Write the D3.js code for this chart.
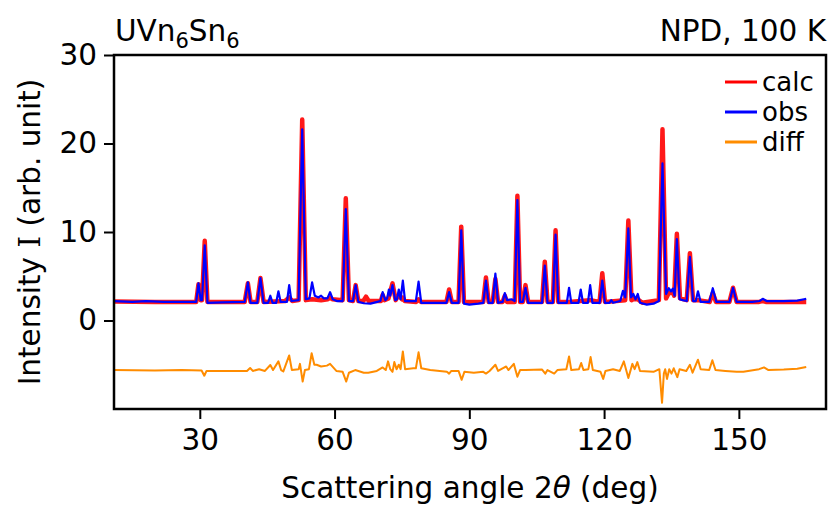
<!DOCTYPE html>
<html>
<head>
<meta charset="utf-8">
<script src="https://cdn.jsdelivr.net/npm/d3@7"></script>
<style>
  body { margin: 0; background: #fff; }
  text { font-family: "DejaVu Sans", sans-serif; fill: #000; }
</style>
</head>
<body>
<svg id="myGraph" width="831" height="506"></svg>
<script>
// 2theta (deg), intensity
var calc = [[10.9,2.15],[20,2.1],[28.9,2.1],[29.2,2.1],[29.7,4.1],[30.2,2.3],[30.5,2.3],[31.1,9.0],[31.7,2.1],
  [40.0,2.1],[40.7,4.2],[41.3,2.1],[42.8,2.1],[43.5,4.8],[44.2,2.1],[49.0,2.2],[49.9,2.6],[50.6,2.2],
  [52.0,2.3],[52.8,22.7],[53.6,2.3],[55.0,2.4],[57.0,2.3],[58.5,2.4],[59.0,2.6],[59.5,2.4],
  [61.8,2.3],[62.5,13.8],[63.2,2.3],[64.1,2.2],[64.7,4.0],[65.3,2.2],[66.4,2.2],[67.0,2.7],[67.6,2.2],
  [70.3,2.2],[70.7,2.9],[71.1,2.3],[72.0,2.5],[72.9,4.2],[73.6,2.3],[74.3,2.9],[75.0,2.4],[75.2,2.6],[75.6,2.2],
  [78.2,2.1],[78.7,2.4],[79.2,2.1],[84.9,2.1],[85.5,3.5],[86.1,2.1],[87.6,2.1],[88.2,10.6],[88.8,2.1],
  [93.1,2.1],[93.7,4.85],[94.3,2.1],[95.2,2.1],[95.8,4.7],[96.4,2.1],[97.4,2.1],[97.9,2.8],[98.4,2.1],
  [100.1,2.1],[100.7,14.1],[101.3,2.1],[101.9,2.1],[102.5,4.0],[103.1,2.1],[106.2,2.1],[106.8,6.65],[107.4,2.1],
  [108.6,2.1],[109.2,10.2],[109.8,2.1],[112.2,2.1],[114.8,2.2],[116.9,2.3],[119.0,2.1],[119.6,5.35],[120.2,2.1],
  [124.7,2.3],[125.4,11.3],[126.1,2.3],[126.5,2.4],[127.5,2.4],[128.5,2.0],[132.2,2.3],[133.0,21.6],[133.8,2.5],
  [134.4,3.1],[135.4,3.1],[135.6,2.8],[136.2,9.8],[136.9,2.5],[138.4,2.3],[139.1,7.6],[139.8,2.3],[140.9,2.3],
  [143.5,2.1],[144.2,3.1],[144.9,2.1],[147.9,2.1],[148.7,3.7],[149.5,2.1],[154.5,2.1],[155.3,2.2],[156.0,2.1],[165.0,2.1]];

var obs = [[10.9,2.2],[15,2.1],[18,2.2],[22,2.1],[26,2.1],[28.9,2.1],[29.2,2.1],[29.7,4.2],[30.2,2.3],[30.5,2.3],[31.1,8.5],[31.7,2.0],
  [35,2.05],[40.0,2.1],[40.7,4.3],[41.3,2.0],[42.8,2.0],[43.5,4.8],[44.2,2.0],
  [45.2,2.0],[45.7,2.8],[46.2,2.0],[47.0,2.0],[47.5,3.3],[48.0,2.1],[49.4,2.1],[49.9,4.0],[50.4,2.2],
  [52.0,2.3],[52.8,21.6],[53.6,2.4],[54.4,2.5],[55.0,4.3],[55.6,2.8],[56.4,2.6],[57.0,2.8],[57.6,2.5],[58.4,2.5],[59.0,3.2],[59.6,2.4],[60.5,2.2],
  [61.8,2.2],[62.5,12.6],[63.2,2.2],[64.1,2.2],[64.7,4.0],[65.3,2.1],[66.5,1.95],[68,1.9],[69.5,2.1],
  [70.2,2.2],[70.7,3.2],[71.3,2.3],[71.7,2.5],[72.1,3.5],[72.4,2.8],[72.9,4.0],[73.5,2.3],[73.9,2.4],[74.3,3.5],[74.7,2.4],[75.2,4.5],[75.7,2.2],
  [78.1,2.2],[78.7,4.4],[79.3,2.0],[82,2.0],[84.9,2.0],[85.5,3.2],[86.1,2.0],
  [87.6,2.0],[88.2,10.2],[88.8,1.9],[90,1.8],[92,1.9],[93.1,2.0],[93.7,4.5],[94.3,2.0],
  [95.2,2.0],[95.8,5.3],[96.4,2.0],[97.4,2.1],[97.9,3.1],[98.4,2.3],[99.4,2.4],[100.1,2.2],[100.7,13.6],[101.3,2.1],
  [101.9,2.1],[102.5,3.7],[103.1,2.0],[105,2.0],[106.2,2.0],[106.8,6.2],[107.4,2.0],[108.6,2.0],[109.2,9.7],[109.8,2.0],
  [111.7,2.0],[112.2,3.7],[112.7,2.0],[114.3,2.0],[114.8,3.5],[115.3,2.0],[116.4,2.0],[116.9,4.0],[117.4,2.0],
  [119.0,2.0],[119.6,4.5],[120.2,2.0],[121.2,2.0],[121.6,2.3],[122,2.0],[123.6,2.2],[124.2,3.35],[124.7,2.6],[125.4,10.4],[126.0,2.6],
  [126.5,3.0],[127.0,2.4],[127.5,3.0],[128.0,2.0],[129.5,1.8],[131,1.9],[132.2,2.2],[133.0,17.75],[133.8,3.0],
  [134.4,3.65],[134.9,3.3],[135.3,3.6],[135.7,2.8],[136.2,9.2],[136.8,2.4],[137.5,2.3],[138.4,2.2],[139.1,7.2],[139.8,2.2],
  [140.4,2.2],[140.9,3.3],[141.5,2.1],[143.4,2.1],[144.2,3.65],[145.0,2.1],[147.9,2.1],[148.7,3.7],[149.5,2.1],
  [153,2.1],[154.6,2.2],[155.3,2.45],[156.2,2.2],[160,2.2],[163,2.25],[164.5,2.4],[165.0,2.45]];

var diff = [[10.9,-5.6],[20,-5.65],[26,-5.6],[30.4,-5.65],[31.0,-6.24],[31.5,-5.7],[35,-5.7],[40.5,-5.7],[41.2,-5.37],[41.8,-5.7],
  [43.2,-5.5],[44.5,-5.7],[45.7,-5.03],[46.3,-5.6],[47.5,-4.62],[48.1,-5.6],[48.6,-5.75],[49.9,-3.95],[50.5,-5.6],
  [52.0,-5.5],[52.3,-4.9],[52.9,-6.9],[53.4,-5.6],[54.3,-5.5],[54.9,-3.7],[55.5,-5.0],[56.0,-5.0],[57.0,-5.2],[58.3,-5.1],[59.0,-4.9],
  [60.4,-5.7],[61.8,-5.8],[62.6,-6.9],[63.2,-5.9],[64.6,-5.6],[66.5,-5.9],[67.5,-5.9],[69.4,-5.7],[70.7,-5.3],[71.4,-5.6],[71.9,-4.62],
  [72.4,-5.5],[72.9,-5.8],[73.3,-4.7],[73.8,-5.5],[74.3,-5.0],[74.7,-5.5],[75.2,-3.5],[75.7,-5.5],[77.5,-5.4],[78.1,-5.4],[78.7,-3.6],[79.3,-5.4],
  [81.3,-5.6],[85.0,-5.8],[85.5,-6.0],[86.0,-5.7],[87.6,-5.7],[88.3,-6.7],[88.9,-5.8],[91,-5.9],[93.1,-5.8],[93.7,-6.0],[94.5,-5.7],
  [95.8,-5.0],[96.4,-5.7],[97.4,-5.4],[98.2,-5.2],[98.7,-5.6],[99.9,-4.9],[100.7,-6.35],[101.3,-5.6],[102.5,-5.6],[106.2,-5.55],[106.9,-6.0],[107.4,-5.6],
  [108.9,-6.0],[109.6,-5.6],[111.6,-5.5],[112.2,-4.06],[112.7,-5.6],[114.4,-5.5],[114.9,-4.8],[115.4,-5.6],[116.5,-5.5],[117.0,-4.13],[117.5,-5.6],
  [119.2,-5.8],[119.8,-6.6],[120.3,-5.7],[122,-5.5],[123.5,-5.7],[124.4,-4.62],[125.4,-6.5],[126.3,-4.9],[126.8,-5.5],[127.4,-4.7],[128.0,-5.7],
  [131,-5.8],[132.3,-5.5],[132.9,-9.3],[133.3,-6.0],[133.6,-5.5],[134.0,-6.6],[134.5,-5.5],[135.0,-6.0],[135.5,-5.4],[136.3,-6.4],[136.8,-5.5],
  [138.3,-5.7],[139.1,-5.0],[139.7,-5.9],[140.9,-4.43],[141.5,-5.5],[143.4,-5.6],[144.1,-4.5],[144.8,-5.6],[147,-5.7],[149.5,-5.8],
  [151,-5.8],[154.5,-5.5],[155.6,-5.3],[156.6,-5.6],[160,-5.55],[163,-5.45],[165.0,-5.25]];

var xTicks = [30, 60, 90, 120, 150];
var yTicks = [0, 10, 20, 30];
var seriesNames = ["calc", "obs", "diff"];
var seriesColors = ["#ff0000", "#0000ff", "#ff8c00"];

var margin = {left: 114, right: 5, top: 55, bottom: 97};
var W = 831, H = 506;
var fs = "29.5px";

var svg = d3.select("#myGraph");

var x = d3.scaleLinear().domain([10.9, 169.4]).range([margin.left, W - margin.right]);
var y = d3.scaleLinear().domain([-10, 30]).range([H - margin.bottom, margin.top]);

var line = d3.line().x(function(d){ return x(d[0]); }).y(function(d){ return y(d[1]); });

var plot = svg.append("g");
plot.append("path").datum(calc).attr("d", line)
  .attr("fill", "none").attr("stroke", seriesColors[0]).attr("stroke-width", 4.5).attr("stroke-opacity", 0.9)
  .attr("stroke-linejoin", "round");
plot.append("path").datum(obs).attr("d", line)
  .attr("fill", "none").attr("stroke", seriesColors[1]).attr("stroke-width", 2.2)
  .attr("stroke-linejoin", "round");
plot.append("path").datum(diff).attr("d", line)
  .attr("fill", "none").attr("stroke", seriesColors[2]).attr("stroke-width", 2)
  .attr("stroke-linejoin", "round");

// axes
var xAxis = svg.append("g").attr("transform", "translate(0," + (H - margin.bottom) + ")")
  .call(d3.axisBottom(x).tickValues(xTicks).tickSize(10).tickPadding(10));
var yAxis = svg.append("g").attr("transform", "translate(" + margin.left + ",0)")
  .call(d3.axisLeft(y).tickValues(yTicks).tickSize(10).tickPadding(7));
[xAxis, yAxis].forEach(function(a){
  a.select(".domain").remove();
  a.selectAll("line").attr("stroke", "#000").attr("stroke-width", 2);
  a.selectAll("text").style("font-family", "DejaVu Sans").style("font-size", fs).attr("fill", "#000");
});

// frame
svg.append("rect").attr("x", margin.left).attr("y", margin.top)
  .attr("width", W - margin.right - margin.left).attr("height", H - margin.bottom - margin.top)
  .attr("fill", "none").attr("stroke", "#000").attr("stroke-width", 2.5);

// titles
var t1 = svg.append("text").attr("x", 115).attr("y", 41).style("font-size", fs);
t1.append("tspan").text("UVn");
t1.append("tspan").text("6").attr("dy", 7).style("font-size", "21px");
t1.append("tspan").text("Sn").attr("dy", -7);
t1.append("tspan").text("6").attr("dy", 7).style("font-size", "21px");

svg.append("text").attr("x", W - margin.right).attr("y", 41).attr("text-anchor", "end")
  .style("font-size", fs).text("NPD, 100 K");

// axis labels
var xl = svg.append("text").attr("x", (margin.left + W - margin.right) / 2).attr("y", 498)
  .attr("text-anchor", "middle").style("font-size", fs);
xl.append("tspan").text("Scattering angle 2");
xl.append("tspan").text("θ").style("font-style", "italic");
xl.append("tspan").text(" (deg)");

var yl = svg.append("text").attr("transform", "translate(40," + ((margin.top + H - margin.bottom) / 2) + ") rotate(-90)")
  .attr("text-anchor", "middle").style("font-size", fs);
yl.append("tspan").text("Intensity ");
yl.append("tspan").text("I").style("font-family", "DejaVu Serif");
yl.append("tspan").text(" (arb. unit)");

// legend
var legend = svg.append("g").selectAll("g").data(seriesNames).enter().append("g")
  .attr("transform", function(d, i){ return "translate(725," + (82 + i * 30) + ")"; });
legend.append("line").attr("x1", 0).attr("x2", 32).attr("y1", 0).attr("y2", 0)
  .attr("stroke", function(d, i){ return seriesColors[i]; }).attr("stroke-width", 3);
legend.append("text").attr("x", 37).attr("y", 9).style("font-size", "26px").text(function(d){ return d; });
</script>
</body>
</html>
